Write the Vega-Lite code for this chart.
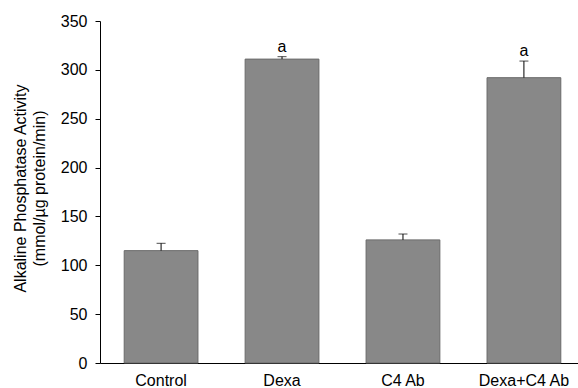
{
  "$schema": "https://vega.github.io/schema/vega-lite/v6.json",
  "width": 485,
  "height": 342,
  "autosize": {"type": "none"},
  "padding": {"left": 100, "top": 21, "right": 0, "bottom": 25},
  "background": "white",
  "config": {
    "view": {"stroke": null},
    "font": "Liberation Sans",
    "axis": {"labelFont": "Liberation Sans", "titleFont": "Liberation Sans", "labelColor": "black", "titleColor": "black", "domainColor": "black", "tickColor": "black", "grid": false}
  },
  "data": {
    "values": [
      {"group": "Control", "activity": 115, "upper": 122.5, "sig": ""},
      {"group": "Dexa", "activity": 311, "upper": 313.5, "sig": "a"},
      {"group": "C4 Ab", "activity": 126, "upper": 132, "sig": ""},
      {"group": "Dexa+C4 Ab", "activity": 292, "upper": 309, "sig": "a"}
    ]
  },
  "encoding": {
    "x": {
      "field": "group",
      "type": "nominal",
      "sort": null,
      "scale": {"paddingInner": 0.39, "paddingOuter": 0.2},
      "axis": {"title": null, "labelAngle": 0, "ticks": false, "labelPadding": 9, "labelFontSize": 16, "domainWidth": 1}
    }
  },
  "layer": [
    {
      "mark": {"type": "bar", "fill": "#888888", "stroke": "#6a6a6a", "strokeWidth": 1},
      "encoding": {
        "y": {
          "field": "activity",
          "type": "quantitative",
          "scale": {"domain": [0, 350], "nice": false},
          "axis": {
            "values": [0, 50, 100, 150, 200, 250, 300, 350],
            "title": ["Alkaline Phosphatase Activity", "(mmol/µg protein/min)"],
            "titleFontSize": 16,
            "titleFontWeight": "normal",
            "titleLineHeight": 19,
            "titleAngle": -90,
            "titleX": -88,
            "titleY": 167,
            "titleAlign": "center",
            "titleBaseline": "top",
            "labelFontSize": 16,
            "labelPadding": 8,
            "tickSize": 5,
            "domainWidth": 1
          }
        }
      }
    },
    {
      "mark": {"type": "rule", "color": "black", "strokeWidth": 1},
      "encoding": {
        "y": {"field": "activity", "type": "quantitative"},
        "y2": {"field": "upper"}
      }
    },
    {
      "mark": {"type": "tick", "color": "black", "size": 9, "thickness": 1},
      "encoding": {
        "y": {"field": "upper", "type": "quantitative"}
      }
    },
    {
      "mark": {"type": "text", "fontSize": 16, "baseline": "bottom", "dy": -2, "color": "black"},
      "encoding": {
        "y": {"field": "upper", "type": "quantitative"},
        "text": {"field": "sig"}
      }
    }
  ]
}
